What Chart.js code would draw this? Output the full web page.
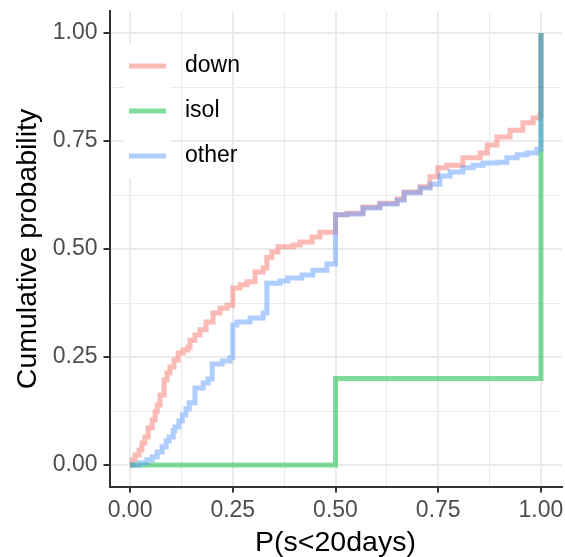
<!DOCTYPE html>
<html>
<head>
<meta charset="utf-8">
<script src="https://cdn.jsdelivr.net/npm/chart.js@4/dist/chart.umd.min.js"></script>
<style>
  html, body { margin: 0; padding: 0; background: #fff; }
  canvas { display: block; }
</style>
</head>
<body>
<canvas id="ecdf" width="565" height="557"></canvas>
<script>
// ECDF curves (x = P(s<20days), y = cumulative probability)
const seriesNames = ["down", "isol", "other"];

const downX = [0, 0.005, 0.012, 0.022, 0.029, 0.036, 0.044, 0.054, 0.061, 0.066, 0.073, 0.083, 0.090, 0.097, 0.107, 0.117,
  0.129, 0.141, 0.146, 0.158, 0.170, 0.185, 0.202, 0.219, 0.236, 0.25, 0.268, 0.285, 0.304, 0.324, 0.333, 0.345, 0.360,
  0.397, 0.414, 0.443, 0.462, 0.5, 0.528, 0.567, 0.608, 0.650, 0.667, 0.706, 0.730, 0.749, 0.771, 0.810, 0.852, 0.869,
  0.893, 0.925, 0.956, 0.981, 0.998, 1.0];
const downY = [0, 0.012, 0.023, 0.035, 0.051, 0.065, 0.086, 0.104, 0.123, 0.139, 0.162, 0.197, 0.213, 0.227, 0.243, 0.259,
  0.266, 0.273, 0.289, 0.301, 0.313, 0.331, 0.352, 0.363, 0.370, 0.410, 0.417, 0.424, 0.447, 0.456, 0.481, 0.493, 0.505,
  0.509, 0.516, 0.528, 0.539, 0.579, 0.583, 0.597, 0.606, 0.616, 0.632, 0.644, 0.667, 0.688, 0.694, 0.711, 0.722, 0.741,
  0.759, 0.775, 0.792, 0.803, 0.810, 1.0];

const isolX = [0, 0.5, 1.0];
const isolY = [0, 0.2, 1.0];

const otherX = [0, 0.024, 0.041, 0.054, 0.066, 0.078, 0.088, 0.095, 0.105, 0.109, 0.119, 0.127, 0.136, 0.144, 0.158, 0.178,
  0.190, 0.2, 0.224, 0.243, 0.25, 0.260, 0.292, 0.324, 0.333, 0.365, 0.384, 0.418, 0.445, 0.479, 0.5, 0.528, 0.567, 0.608,
  0.650, 0.667, 0.706, 0.730, 0.754, 0.779, 0.810, 0.835, 0.859, 0.893, 0.917, 0.942, 0.966, 0.990, 1.0];
const otherY = [0, 0.005, 0.012, 0.019, 0.030, 0.042, 0.056, 0.065, 0.079, 0.088, 0.102, 0.116, 0.130, 0.144, 0.178, 0.190,
  0.199, 0.234, 0.241, 0.248, 0.324, 0.331, 0.340, 0.352, 0.421, 0.426, 0.433, 0.440, 0.451, 0.465, 0.579, 0.581, 0.595, 0.604,
  0.613, 0.630, 0.641, 0.650, 0.669, 0.678, 0.688, 0.694, 0.699, 0.701, 0.711, 0.718, 0.722, 0.731, 1.0];

const majorTicks = [0, 0.25, 0.5, 0.75, 1];
const minorTicks = [0.125, 0.375, 0.625, 0.875];

const colors = ["rgba(248,118,109,0.5)", "rgba(0,186,56,0.5)", "rgba(97,156,255,0.5)"];
const FONT = "'Liberation Sans', Arial, sans-serif";

function pts(xs, ys) { return xs.map((x, i) => ({ x: x, y: ys[i] })); }
const isMajor = v => majorTicks.some(t => Math.abs(t - v) < 1e-9);
function allTicks(scale) {
  scale.ticks = majorTicks.concat(minorTicks).sort((a, b) => a - b).map(v => ({ value: v }));
}

// legend drawn inside the panel, top-left, like ggplot's legend.position
const insideLegend = {
  id: "insideLegend",
  beforeDatasetsDraw(chart) {
    const ctx = chart.ctx, a = chart.chartArea;
    const x0 = a.left + 14.5, y0 = a.top + 32, kw = 47, kh = 45;
    ctx.save();
    chart.data.datasets.forEach((ds, i) => {
      const cy = y0 + kh * i + kh / 2;
      ctx.fillStyle = "#fff";
      ctx.fillRect(x0, y0 + kh * i, kw, kh);
      ctx.strokeStyle = ds.borderColor;
      ctx.lineWidth = 5;
      ctx.beginPath(); ctx.moveTo(x0 + 5, cy); ctx.lineTo(x0 + kw - 5, cy); ctx.stroke();
      ctx.fillStyle = "#000";
      ctx.font = "23px " + FONT;
      ctx.textAlign = "left"; ctx.textBaseline = "middle";
      ctx.fillText(ds.label, x0 + kw + 14, cy);
    });
    ctx.restore();
  }
};

const series = [pts(downX, downY), pts(isolX, isolY), pts(otherX, otherY)];

new Chart(document.getElementById("ecdf"), {
  type: "scatter",
  data: {
    datasets: series.map((d, i) => ({
      label: seriesNames[i], data: d, showLine: true, stepped: "before",
      borderColor: colors[i], backgroundColor: colors[i], borderWidth: 5,
      pointRadius: 0, pointHoverRadius: 0, fill: false, order: 3 - i, borderCapStyle: "butt"
    }))
  },
  options: {
    responsive: false, animation: false, events: [],
    layout: { padding: { top: 11.4, right: 3.5, left: 0, bottom: 0 } },
    plugins: { legend: { display: false }, tooltip: { enabled: false } },
    scales: {
      x: {
        type: "linear", min: -0.05, max: 1.05,
        afterBuildTicks: allTicks,
        afterFit: s => { s.height = 70.4; s.paddingLeft = 0; s.paddingRight = 0; },
        ticks: { autoSkip: false, maxRotation: 0, padding: 4, color: "#4D4D4D", font: { family: FONT, size: 23 },
          callback: v => isMajor(v) ? v.toFixed(2) : "" },
        grid: { color: "#EBEBEB", lineWidth: c => isMajor(c.tick.value) ? 2 : 1,
          tickColor: c => isMajor(c.tick.value) ? "#333" : "rgba(0,0,0,0)", tickLength: 6, tickWidth: 2 },
        border: { display: true, color: "#333", width: 2 },
        title: { display: true, text: "P(s<20days)", color: "#000", font: { family: FONT, size: 28.5, lineHeight: 1 }, padding: 0 }
      },
      y: {
        type: "linear", min: -0.05, max: 1.05,
        afterBuildTicks: allTicks,
        afterFit: s => { s.width = 109.5; s.paddingTop = 0; s.paddingBottom = 0; },
        ticks: { autoSkip: false, padding: 6, color: "#4D4D4D", font: { family: FONT, size: 23 },
          callback: v => isMajor(v) ? v.toFixed(2) : "" },
        grid: { color: "#EBEBEB", lineWidth: c => isMajor(c.tick.value) ? 2 : 1,
          tickColor: c => isMajor(c.tick.value) ? "#333" : "rgba(0,0,0,0)", tickLength: 6, tickWidth: 2 },
        border: { display: true, color: "#333", width: 2 },
        title: { display: true, text: "Cumulative probability", color: "#000", font: { family: FONT, size: 28.5, lineHeight: 1 }, padding: { top: 14, bottom: 0 } }
      }
    }
  },
  plugins: [insideLegend]
});
</script>
</body>
</html>
